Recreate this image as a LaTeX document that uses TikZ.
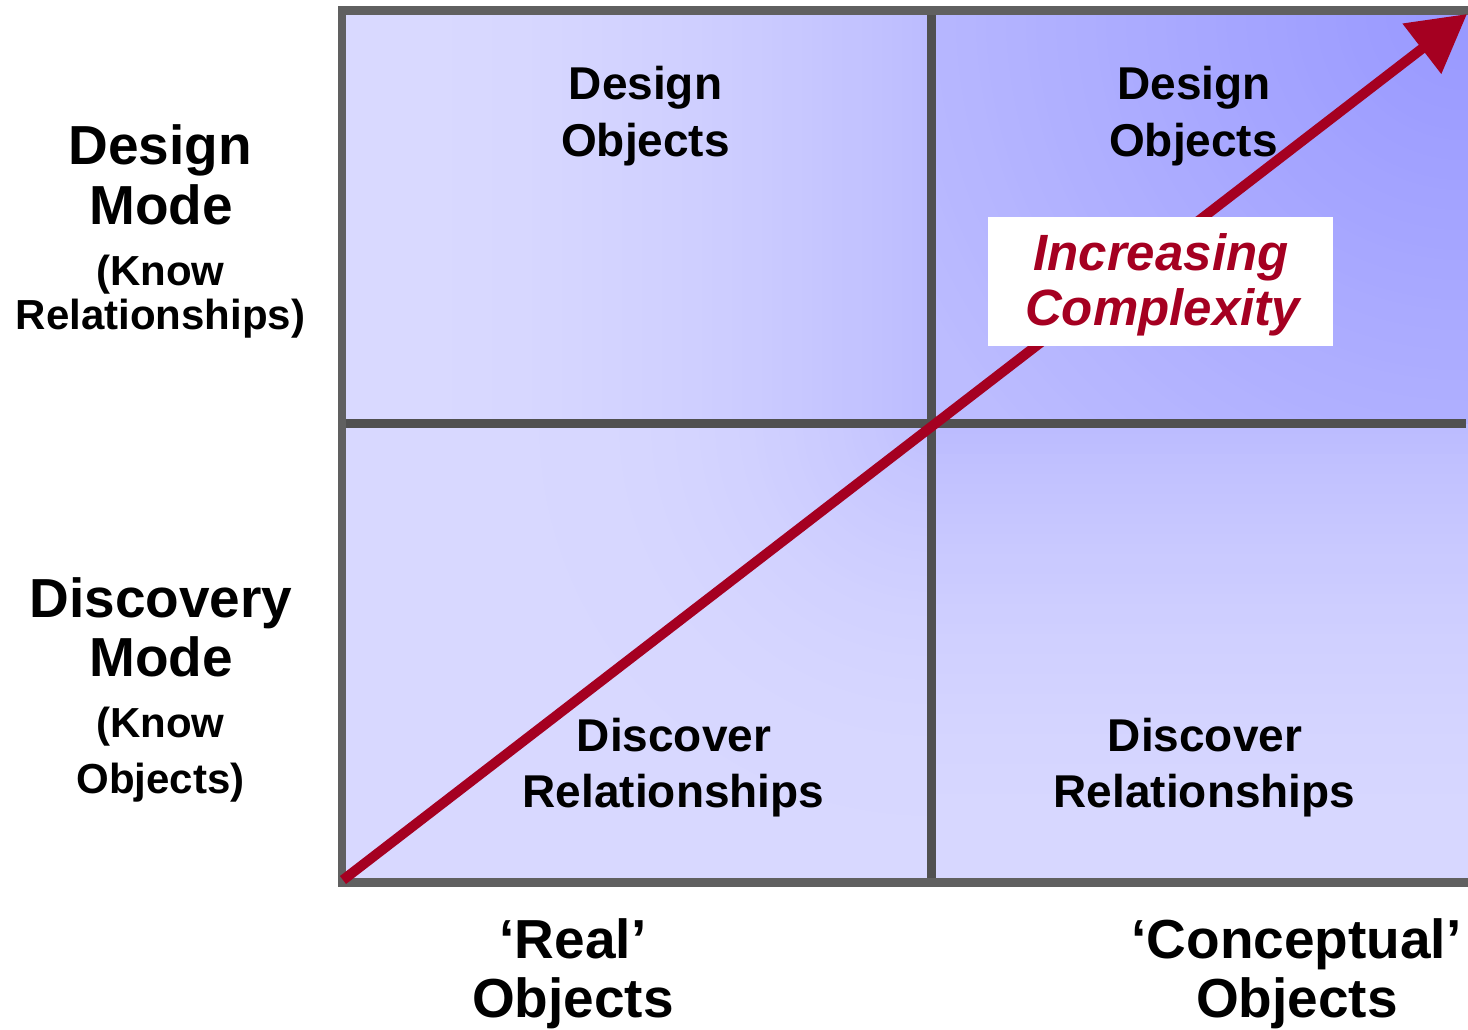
\documentclass[tikz,border=0pt]{standalone}
\usepackage{fontspec}
\setmainfont{Liberation Sans}
\usetikzlibrary{arrows.meta}
\definecolor{borderc}{HTML}{606060}
\definecolor{gridc}{HTML}{505050}
\definecolor{arrowc}{HTML}{A50021}
\newcommand\fntBig{\fontsize{55}{60}\selectfont\bfseries}
\newcommand\fntSub{\fontsize{42}{46}\selectfont\bfseries}
\newcommand\fntQuad{\fontsize{46}{50}\selectfont\bfseries}
\newcommand\fntInc{\fontsize{51}{55}\selectfont\bfseries\itshape}
\tikzset{
  lbl/.style={inner sep=0pt, anchor=base},
  boxline/.style={line width=8.5pt, color=borderc},
  gridline/.style={line width=8.5pt, color=gridc},
}
\begin{document}
\begin{tikzpicture}[x=1pt, y=-1pt]
\useasboundingbox (0,0) rectangle (1468,1029);
\definecolor{shdbase}{RGB}{216,216,255}
\definecolor{shdmid}{RGB}{188,188,255}
% top-left quadrant: horizontal gradient
\begin{scope}
  \clip (342,10.5) rectangle (931.5,423.5);
  \foreach \i in {0,...,59} {
    \pgfmathsetmacro{\s}{min(1,(931.5-(347+10*\i))/589.5)}
    \pgfmathtruncatemacro{\v}{188+30*(1-(1-\s)^2)}
    \definecolor{shd}{RGB}{\v,\v,255}
    \fill[shd] (342+10*\i,10.5) rectangle (353+10*\i,423.5);
  }
\end{scope}
% bottom-right quadrant: vertical gradient
\begin{scope}
  \clip (931.5,423.5) rectangle (1472,882.5);
  \foreach \i in {0,...,46} {
    \pgfmathsetmacro{\s}{min(1,((428.5+10*\i)-423.5)/459)}
    \pgfmathtruncatemacro{\v}{188+28*(1-(1-\s)^2)}
    \definecolor{shd}{RGB}{\v,\v,255}
    \fill[shd] (931.5,423.5+10*\i) rectangle (1472,434.5+10*\i);
  }
\end{scope}
% bottom-left quadrant: radial from centre point
\begin{scope}
  \clip (342,423.5) rectangle (931.5,882.5);
  \fill[shdbase] (342,423.5) rectangle (931.5,882.5);
  \foreach \r in {400,392,...,8} {
    \pgfmathtruncatemacro{\v}{192+24*(1-(1-\r/400)^2)}
    \definecolor{shd}{RGB}{\v,\v,255}
    \fill[shd] (931.5,423.5) circle[radius=\r pt];
  }
\end{scope}
% top-right quadrant: radial from top-right corner
\begin{scope}
  \clip (931.5,10.5) rectangle (1472,423.5);
  \fill[shdmid] (931.5,10.5) rectangle (1472,423.5);
  \foreach \r in {620,610,...,10} {
    \pgfmathtruncatemacro{\v}{152+36*(\r/620)}
    \definecolor{shd}{RGB}{\v,\v,255}
    \fill[shd] (1466,10) circle[radius=\r pt];
  }
\end{scope}
% grid lines
\coordinate (vtop) at (931.5,10.5);
\coordinate (vbot) at (931.5,882.5);
\coordinate (hleft) at (342,423.5);
\coordinate (hright) at (1466,423.5);
\draw[gridline] (vtop) -- (vbot);
\draw[gridline] (hleft) -- (hright);
% outer border
\draw[boxline] (342,10.5) rectangle (1472,882.5);
% arrow
\coordinate (astart) at (343,880);
\coordinate (atip) at (1467,14);
\draw[line width=10pt, color=arrowc, -{Triangle[length=57pt, width=61pt]}] (astart) -- (atip);
% white label box
\node[fill=white, inner sep=0pt, minimum width=345pt, minimum height=129pt] (cbox) at (1160.5,281.5) {};
\node[lbl, font=\fntInc, text=arrowc] (inc1) at (1161,270) {Increasing};
\node[lbl, font=\fntInc, text=arrowc] (inc2) at (1162.5,325) {Complexity};
% left labels
\node[lbl, font=\fntBig] (dm1) at (160,164) {Design};
\node[lbl, font=\fntBig] (dm2) at (161,224) {Mode};
\node[lbl, font=\fntSub] (dm3) at (160.5,285) {(Know};
\node[lbl, font=\fntSub] (dm4) at (160.5,329) {Relationships)};
\node[lbl, font=\fntBig] (dc1) at (161,617) {Discovery};
\node[lbl, font=\fntBig] (dc2) at (161,676) {Mode};
\node[lbl, font=\fntSub] (dc3) at (160.5,737) {(Know};
\node[lbl, font=\fntSub] (dc4) at (160.5,793) {Objects)};
% quadrant texts
\node[lbl, font=\fntQuad] (tl1) at (645.5,99) {Design};
\node[lbl, font=\fntQuad] (tl2) at (645.5,156) {Objects};
\node[lbl, font=\fntQuad] (tr1) at (1194,99) {Design};
\node[lbl, font=\fntQuad] (tr2) at (1193.5,156) {Objects};
\node[lbl, font=\fntQuad] (bl1) at (674,751) {Discover};
\node[lbl, font=\fntQuad] (bl2) at (673.5,807) {Relationships};
\node[lbl, font=\fntQuad] (br1) at (1205,751) {Discover};
\node[lbl, font=\fntQuad] (br2) at (1204.5,807) {Relationships};
% axis labels
\node[lbl, font=\fntBig] (ax1) at (573,958) {‘Real’};
\node[lbl, font=\fntBig] (ax2) at (573,1017) {Objects};
\node[lbl, font=\fntBig] (ax3) at (1296.5,958) {‘Conceptual’};
\node[lbl, font=\fntBig] (ax4) at (1297,1017) {Objects};
\end{tikzpicture}
\end{document}
